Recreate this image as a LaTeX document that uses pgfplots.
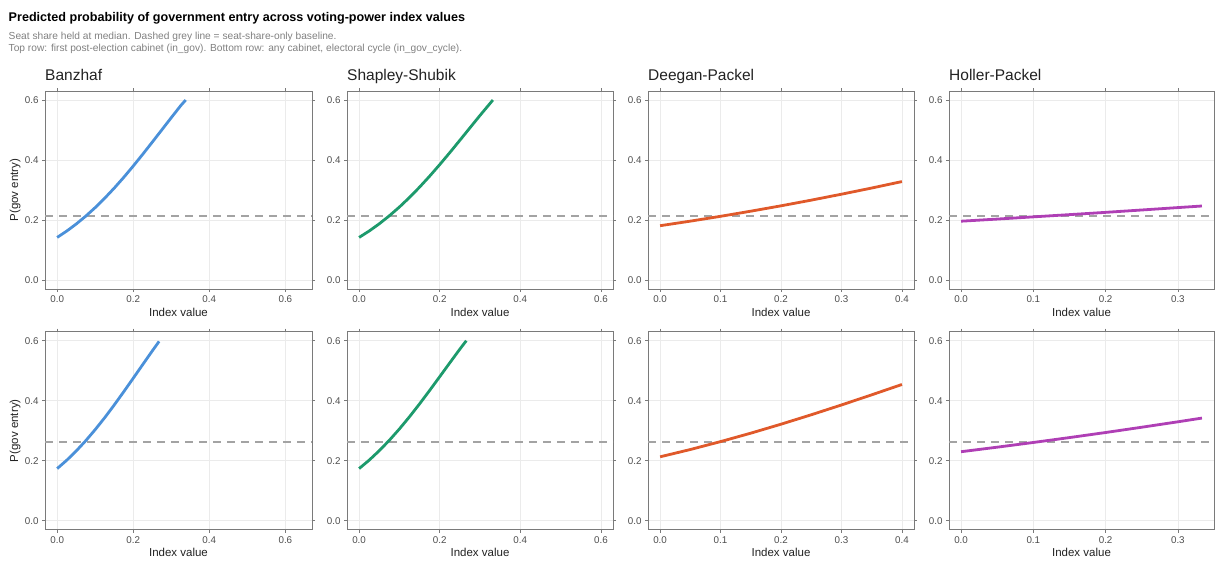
\documentclass[border=0pt]{standalone}
\usepackage{fontspec}
\setmainfont{Liberation Sans}
\usepackage{pgfplots}
\pgfplotsset{compat=1.18}

\definecolor{cBan}{HTML}{4A90D9}
\definecolor{cSha}{HTML}{1D9A6C}
\definecolor{cDee}{HTML}{E0592A}
\definecolor{cHol}{HTML}{AF3FB5}
\definecolor{gridc}{HTML}{EBEBEB}
\definecolor{framec}{HTML}{7A7A7A}
\definecolor{tickc}{HTML}{4D4D4D}
\definecolor{labc}{HTML}{222222}
\definecolor{basec}{HTML}{A3A3A3}
\definecolor{subc}{HTML}{808080}

\pgfplotsset{
  panel/.style={
    scale only axis, width=267pt, height=198pt,
    ymin=-0.03, ymax=0.63, ytick={0,0.2,0.4,0.6},
    grid=major, grid style={gridc, line width=0.6pt},
    axis line style={framec, line width=0.8pt},
    tick align=outside, major tick length=3pt,
    tick style={framec, line width=0.7pt},
    ticklabel style={font=\fontsize{9.8}{11}\selectfont, text=tickc},
    /pgf/number format/assume math mode=true,
    /pgf/number format/fixed,
    /pgf/number format/fixed zerofill,
    /pgf/number format/precision=1,
    scaled ticks=false,
    xlabel={Index value},
    xlabel style={at={(axis description cs:0.5,-0.117)}, anchor=center, font=\fontsize{11.5}{13}\selectfont, text=labc},
  },
  ylab/.style={
    ylabel={P(gov entry)},
    ylabel style={at={(axis description cs:-0.112,0.5)}, anchor=center, font=\fontsize{11.5}{13}\selectfont, text=labc},
  },
  colA/.style={xmin=-0.032, xmax=0.670, xtick={0,0.2,0.4,0.6}},
  colB/.style={xmin=-0.03, xmax=0.63, xtick={0,0.2,0.4,0.6}},
  colC/.style={xmin=-0.02, xmax=0.42, xtick={0,0.1,0.2,0.3,0.4}},
  colD/.style={xmin=-0.0167, xmax=0.35, xtick={0,0.1,0.2,0.3}},
  curve/.style={line width=2.8pt},
  base/.style={basec, line width=1.4pt, dash pattern=on 8pt off 6pt},
}

\begin{document}
\begin{tikzpicture}
\path[use as bounding box] (0,0) rectangle (1215pt,-560pt);

\node[anchor=base west, font=\bfseries\fontsize{12.6}{14}\selectfont, inner sep=0pt] at (8.5pt,-21pt) {Predicted probability of government entry across voting-power index values};
\node[anchor=base west, font=\fontsize{10.2}{12}\selectfont, text=subc, inner sep=0pt] at (8.5pt,-39.5pt) {Seat share held at median. Dashed grey line = seat-share-only baseline.};
\node[anchor=base west, font=\fontsize{10.2}{12}\selectfont, text=subc, inner sep=0pt] at (8.5pt,-51.5pt) {Top row: first post-election cabinet (in\_gov). Bottom row: any cabinet, electoral cycle (in\_gov\_cycle).};

\foreach \xx/\nm in {45/Banzhaf, 347/Shapley-Shubik, 648/Deegan-Packel, 949/Holler-Packel}{
  \node[anchor=base west, font=\fontsize{15.5}{17}\selectfont, text=labc, inner sep=0pt] at (\xx pt,-80.5pt) {\nm};
}

% ---------- top row ----------
\begin{axis}[panel, colA, ylab, at={(45pt,-289pt)}, anchor=south west]
\addplot[base] coordinates {(-0.032,0.213) (0.670,0.213)};
\addplot[curve, cBan] coordinates {
(0,0.1419) (0.025,0.1630) (0.05,0.1866) (0.075,0.2127) (0.1,0.2414) (0.125,0.2727)
(0.15,0.3063) (0.175,0.3421) (0.2,0.3799) (0.225,0.4192) (0.25,0.4595) (0.275,0.5003)
(0.3,0.5412) (0.325,0.5815) (0.338,0.6000)};
\end{axis}

\begin{axis}[panel, colB, at={(347pt,-289pt)}, anchor=south west, width=266pt]
\addplot[base] coordinates {(-0.03,0.213) (0.63,0.213)};
\addplot[curve, cSha] coordinates {
(0,0.1419) (0.025,0.1633) (0.05,0.1873) (0.075,0.2140) (0.1,0.2432) (0.125,0.2751)
(0.15,0.3095) (0.175,0.3461) (0.2,0.3846) (0.225,0.4246) (0.25,0.4657) (0.275,0.5072)
(0.3,0.5486) (0.332,0.6000)};
\end{axis}

\begin{axis}[panel, colC, at={(648pt,-289pt)}, anchor=south west, width=266pt]
\addplot[base] coordinates {(-0.02,0.213) (0.42,0.213)};
\addplot[curve, cDee] coordinates {
(0,0.1810) (0.05,0.1962) (0.1,0.2123) (0.15,0.2294) (0.2,0.2473) (0.25,0.2662)
(0.3,0.2860) (0.35,0.3066) (0.4,0.3281)};
\end{axis}

\begin{axis}[panel, colD, at={(949pt,-289pt)}, anchor=south west, width=265pt]
\addplot[base] coordinates {(-0.0167,0.213) (0.35,0.213)};
\addplot[curve, cHol] coordinates {
(0,0.1960) (0.05,0.2031) (0.1,0.2105) (0.15,0.2179) (0.2,0.2255) (0.25,0.2334)
(0.3,0.2414) (0.3333,0.2467)};
\end{axis}

% ---------- bottom row ----------
\begin{axis}[panel, colA, ylab, at={(45pt,-529.7pt)}, anchor=south west]
\addplot[base] coordinates {(-0.032,0.263) (0.670,0.263)};
\addplot[curve, cBan] coordinates {
(0,0.1737) (0.025,0.2014) (0.05,0.2323) (0.075,0.2665) (0.1,0.3037) (0.125,0.3435)
(0.15,0.3858) (0.175,0.4299) (0.2,0.4750) (0.225,0.5206) (0.25,0.5659) (0.268,0.5978)};
\end{axis}

\begin{axis}[panel, colB, at={(347pt,-529.7pt)}, anchor=south west, width=266pt]
\addplot[base] coordinates {(-0.03,0.263) (0.63,0.263)};
\addplot[curve, cSha] coordinates {
(0,0.1737) (0.025,0.2018) (0.05,0.2333) (0.075,0.2680) (0.1,0.3058) (0.125,0.3464)
(0.15,0.3894) (0.175,0.4342) (0.2,0.4800) (0.225,0.5262) (0.25,0.5720) (0.266,0.6000)};
\end{axis}

\begin{axis}[panel, colC, at={(648pt,-529.7pt)}, anchor=south west, width=266pt]
\addplot[base] coordinates {(-0.02,0.263) (0.42,0.263)};
\addplot[curve, cDee] coordinates {
(0,0.2130) (0.05,0.2373) (0.1,0.2637) (0.15,0.2918) (0.2,0.3217) (0.25,0.3531)
(0.3,0.3858) (0.35,0.4196) (0.4,0.4541)};
\end{axis}

\begin{axis}[panel, colD, at={(949pt,-529.7pt)}, anchor=south west, width=265pt]
\addplot[base] coordinates {(-0.0167,0.263) (0.35,0.263)};
\addplot[curve, cHol] coordinates {
(0,0.2300) (0.05,0.2451) (0.1,0.2608) (0.15,0.2771) (0.2,0.2940) (0.25,0.3116)
(0.3,0.3297) (0.3333,0.3421)};
\end{axis}

\end{tikzpicture}
\end{document}
